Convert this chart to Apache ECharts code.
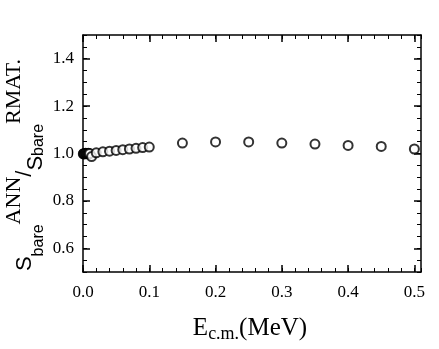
<!DOCTYPE html>
<html>
<head>
<meta charset="utf-8">
<script src="https://cdn.jsdelivr.net/npm/echarts@6/dist/echarts.min.js"></script>
<style>
  html, body { margin: 0; padding: 0; background: #fff; }
  #chart { width: 439px; height: 349px; }
</style>
</head>
<body>
<div id="chart"></div>
<script>
// energy (MeV) and ratio S_bare(ANN) / S_bare(RMAT)
var energy = [0.0005, 0.001, 0.002, 0.003, 0.004, 0.005, 0.006, 0.007, 0.008, 0.009, 0.010, 0.013,
              0.02, 0.03, 0.04, 0.05, 0.06, 0.07, 0.08, 0.09, 0.10,
              0.15, 0.20, 0.25, 0.30, 0.35, 0.40, 0.45, 0.50];
var ratio = [0.998, 0.999, 1.000, 0.999, 1.001, 1.000, 0.999, 1.000, 1.001, 0.999, 1.000, 0.987,
             1.003, 1.007, 1.010, 1.013, 1.016, 1.019, 1.022, 1.025, 1.027,
             1.044, 1.049, 1.049, 1.044, 1.040, 1.034, 1.030, 1.019];
var xTicks = [0.0, 0.1, 0.2, 0.3, 0.4, 0.5];
var yTicks = [0.6, 0.8, 1.0, 1.2, 1.4];

var serif = 'Liberation Serif, Times New Roman, serif';
var sans = 'Liberation Sans, Arial, sans-serif';

var chart = echarts.init(document.getElementById('chart'));

function majorX(pos, labels) {
  return {
    type: 'value', position: pos, min: 0, max: 0.51, gridIndex: 0,
    axisLine: { show: true, onZero: false, lineStyle: { color: '#000', width: 1.5 } },
    axisTick: { show: true, inside: true, length: 7, customValues: xTicks, lineStyle: { color: '#000', width: 1.5 } },
    axisLabel: { show: labels, customValues: xTicks, margin: 12, color: '#000', fontSize: 17, fontFamily: serif,
                 formatter: function (v) { return v.toFixed(1); } },
    splitLine: { show: false }
  };
}
function minorX(pos) {
  return {
    type: 'value', position: pos, min: 0, max: 0.51, interval: 0.02,
    axisLine: { show: false, onZero: false },
    axisTick: { show: true, inside: true, length: 4, lineStyle: { color: '#000', width: 1 } },
    axisLabel: { show: false }, splitLine: { show: false }
  };
}
function majorY(pos, labels) {
  return {
    type: 'value', position: pos, min: 0.5, max: 1.5,
    axisLine: { show: true, onZero: false, lineStyle: { color: '#000', width: 1.5 } },
    axisTick: { show: true, inside: true, length: 7, customValues: yTicks, lineStyle: { color: '#000', width: 1.5 } },
    axisLabel: { show: labels, customValues: yTicks, margin: 9, color: '#000', fontSize: 17, fontFamily: serif,
                 formatter: function (v) { return v.toFixed(1); } },
    splitLine: { show: false }
  };
}
function minorY(pos) {
  return {
    type: 'value', position: pos, min: 0.5, max: 1.5, interval: 0.05,
    axisLine: { show: false, onZero: false },
    axisTick: { show: true, inside: true, length: 4, lineStyle: { color: '#000', width: 1 } },
    axisLabel: { show: false }, splitLine: { show: false }
  };
}

var points = energy.map(function (e, i) { return [e, ratio[i]]; });

chart.setOption({
  animation: false,
  backgroundColor: '#fff',
  grid: { left: 83, right: 18, top: 35, bottom: 77 },
  xAxis: [majorX('bottom', true), minorX('bottom'), majorX('top', false), minorX('top')],
  yAxis: [majorY('left', true), minorY('left'), majorY('right', false), minorY('right')],
  series: [{
    type: 'scatter',
    xAxisIndex: 0, yAxisIndex: 0,
    data: points,
    symbol: 'emptyCircle',
    symbolSize: 9,
    itemStyle: { color: '#000', borderColor: '#000', borderWidth: 0.8 }
  }],
  graphic: [
    {
      type: 'text', x: 250, y: 328,
      style: {
        text: '{m|E}{sub|c.m.}{m|(MeV)}',
        align: 'center', verticalAlign: 'middle', fill: '#000',
        rich: {
          m: { fontSize: 25, fontFamily: serif, lineHeight: 30, verticalAlign: 'middle' },
          sub: { fontSize: 18, fontFamily: serif, lineHeight: 14, verticalAlign: 'bottom' }
        }
      }
    },
    {
      type: 'text', x: 25, y: 165, rotation: Math.PI / 2,
      style: {
        text: '{m|S}{sub|bare}{sup|ANN}{m|/}{ms|S}{sub|bare}{sup|RMAT.}',
        align: 'center', verticalAlign: 'middle', fill: '#000',
        rich: {
          m: { fontSize: 22, fontFamily: sans, lineHeight: 44, verticalAlign: 'middle' },
          ms: { fontSize: 22, fontFamily: sans, lineHeight: 18, verticalAlign: 'bottom' },
          sub: { fontSize: 16, fontFamily: sans, lineHeight: 14, verticalAlign: 'bottom' },
          sup: { fontSize: 22, fontFamily: serif, lineHeight: 16, verticalAlign: 'top' }
        }
      }
    }
  ]
});
</script>
</body>
</html>
